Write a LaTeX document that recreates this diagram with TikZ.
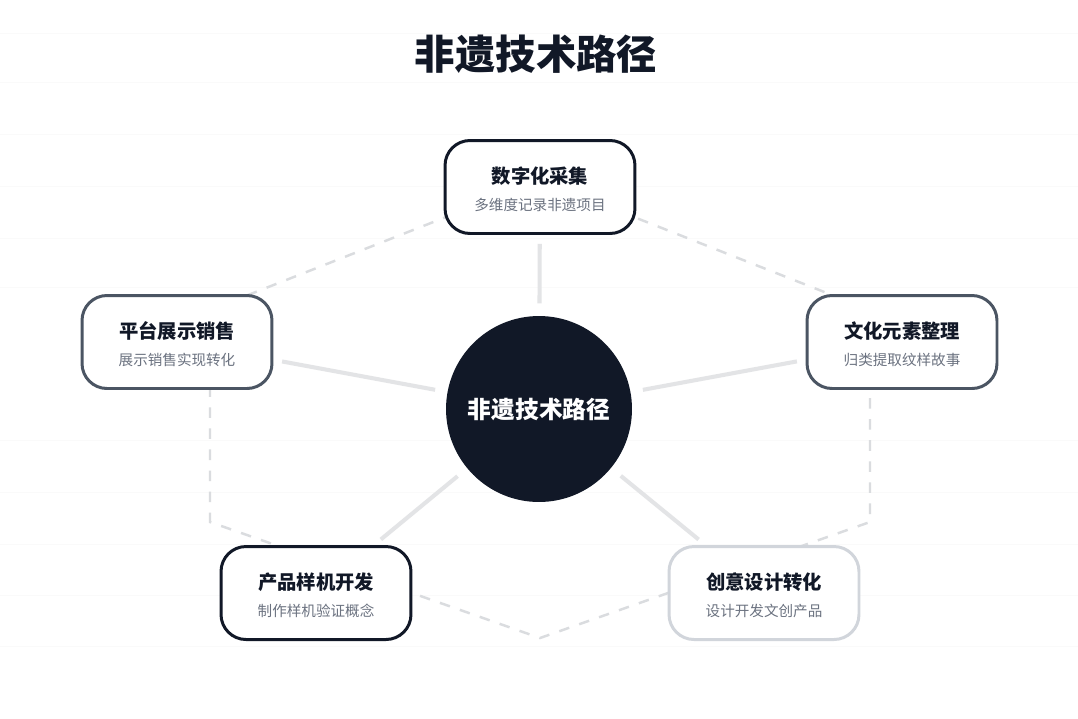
\documentclass[tikz,border=0pt]{standalone}
\usepackage{fontspec}
\setmainfont{Noto Sans CJK SC}
\usetikzlibrary{calc}

\definecolor{ink}{HTML}{111827}
\definecolor{slate}{HTML}{4B5563}
\definecolor{mist}{HTML}{D1D5DB}
\definecolor{spokegray}{HTML}{E3E4E6}
\definecolor{dashgray}{HTML}{DADCDF}
\definecolor{subgray}{HTML}{6B7280}

\newcommand{\stagetext}[2]{{\bfseries\fontsize{11}{13}\selectfont\color{ink}\rule{0pt}{12pt}#1}\\[3.4pt]{\fontsize{8.3}{10}\selectfont\color{subgray}#2}}

\begin{document}
\begin{tikzpicture}[x=0.02cm, y=-0.02cm,
  stagebox/.style={draw=#1, line width=1.7pt, fill=white, rounded corners=0.5cm,
    minimum width=3.8cm, minimum height=1.86cm, align=center, inner sep=0pt},
  stagebox/.default=ink,
  spoke/.style={spokegray, line width=2.3pt, shorten <=7pt, shorten >=5pt},
  ring/.style={dashgray, line width=1.4pt, dash pattern=on 6pt off 6pt},
  faint/.style={black!2, line width=0.5pt}]

\useasboundingbox (0,0) rectangle (1078,718);
\fill[white] (0,0) rectangle (1078,718);

% faint rows
\foreach \y in {33,82,134,186,238,287,440,492,544,595,646}
  \draw[faint] (0,\y) -- (1078,\y);

% dashed ring
\coordinate (r1) at (540,180);
\coordinate (r2) at (870,310);
\coordinate (r3) at (870,522);
\coordinate (r4) at (540,638);
\coordinate (r5) at (210,522);
\coordinate (r6) at (210,310);
\draw[ring] (r1) -- (r2) -- (r3) -- (r4) -- (r5) -- (r6) -- cycle;

\node[font=\bfseries\fontsize{23}{27}\selectfont, text=ink] (title) at (536,54) {非遗技术路径};

\node[circle, fill=ink, minimum size=3.72cm, inner sep=0pt,
  font=\bfseries\fontsize{13.5}{16}\selectfont, text=white] (hub) at (539,409) {非遗技术路径};

\node[stagebox] (collect) at (540,187) {\stagetext{数字化采集}{多维度记录非遗项目}};
\node[stagebox=slate] (sort) at (902,342) {\stagetext{文化元素整理}{归类提取纹样故事}};
\node[stagebox=mist] (design) at (764,593) {\stagetext{创意设计转化}{设计开发文创产品}};
\node[stagebox] (proto) at (316,593) {\stagetext{产品样机开发}{制作样机验证概念}};
\node[stagebox=slate] (sales) at (177,342) {\stagetext{平台展示销售}{展示销售实现转化}};

\draw[spoke] (hub) -- (collect);
\draw[spoke] (hub) -- (sort);
\draw[spoke] (hub) -- (design);
\draw[spoke] (hub) -- (proto);
\draw[spoke] (hub) -- (sales);

\end{tikzpicture}
\end{document}
